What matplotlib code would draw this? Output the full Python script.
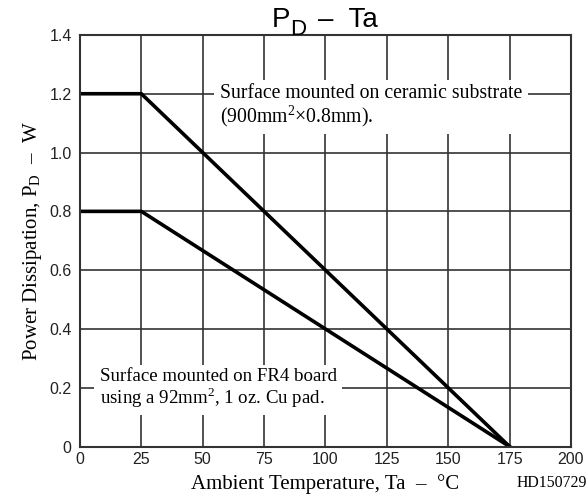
import matplotlib
matplotlib.use("Agg")
import matplotlib.pyplot as plt

# derating curves
temp_ceramic = [0, 25, 175]
pd_ceramic = [1.2, 1.2, 0.0]
temp_fr4 = [0, 25, 175]
pd_fr4 = [0.8, 0.8, 0.0]

x_ticks = [0, 25, 50, 75, 100, 125, 150, 175, 200]
y_ticks = [0, 0.2, 0.4, 0.6, 0.8, 1.0, 1.2, 1.4]
y_labels = ['0', '0.2', '0.4', '0.6', '0.8', '1.0', '1.2', '1.4']

plt.rcParams['mathtext.fontset'] = 'custom'
plt.rcParams['mathtext.rm'] = 'Liberation Serif'
plt.rcParams['mathtext.sf'] = 'Liberation Sans'

serif = 'Liberation Serif'
sans = 'Liberation Sans'
grid_col = '#333333'
DASH = '\u2013'

fig = plt.figure(figsize=(5.88, 4.99), dpi=100)
ax = fig.add_axes([0.136, 0.105, 0.835, 0.825])

ax.plot(temp_ceramic, pd_ceramic, color='black', lw=2.6, zorder=2)
ax.plot(temp_fr4, pd_fr4, color='black', lw=2.6, zorder=2)

ax.set_xlim(0, 200)
ax.set_ylim(0, 1.4)
ax.set_xticks(x_ticks)
ax.set_yticks(y_ticks)
ax.set_yticklabels(y_labels)
ax.tick_params(length=0, labelsize=11.5)
ax.tick_params(axis='x', pad=4)
ax.tick_params(axis='y', pad=6)
for lab in ax.get_xticklabels() + ax.get_yticklabels():
    lab.set_family(sans)
    lab.set_color('#222222')
ax.grid(True, color=grid_col, lw=1.2)
ax.set_axisbelow(True)
for sp in ax.spines.values():
    sp.set_color(grid_col)
    sp.set_linewidth(1.5)

ax.set_xlabel('Ambient Temperature, Ta  ' + DASH + '  \u00b0C', family=serif, fontsize=15, labelpad=5)
ax.set_ylabel(r'Power Dissipation, P$_{\mathrm{D}}$  ' + DASH + '  W',
              family=serif, fontsize=15, labelpad=4)

# title: P with a fairly large subscript D, then "- Ta"
fig.text(0.462, 0.946, 'P', family=sans, fontsize=20, ha='left', va='baseline')
fig.text(0.494, 0.930, 'D', family=sans, fontsize=16, ha='left', va='baseline')
fig.text(0.540, 0.946, DASH + '  Ta', family=sans, fontsize=20, ha='left', va='baseline')
fig.text(0.998, 0.032, 'HD150729', family=serif, fontsize=11.4, ha='right', va='center')

box = dict(facecolor='white', edgecolor='none', pad=4)
ax.text(57.0, 1.158, 'Surface mounted on ceramic substrate\n(900mm$^2$\u00d70.8mm).',
        family=serif, fontsize=14.2, va='center', ha='left', linespacing=1.0, bbox=box, zorder=3)
ax.text(8.1, 0.196, 'Surface mounted on FR4 board\nusing a 92mm$^2$, 1 oz. Cu pad.',
        family=serif, fontsize=13.6, va='center', ha='left', linespacing=1.0, bbox=box, zorder=3)

fig.savefig('out.png', dpi=100)
